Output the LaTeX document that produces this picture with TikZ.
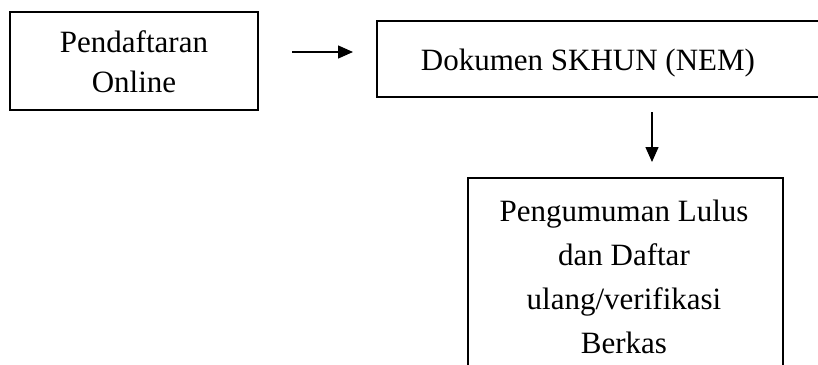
\documentclass[tikz,border=0pt]{standalone}
\usepackage{fontspec}
\setmainfont{Liberation Serif}
\usetikzlibrary{arrows.meta,positioning}
\tikzset{
  boxst/.style={draw=black, line width=1.3pt, rectangle, inner sep=0pt},
  txt/.style={align=center, inner sep=0pt, font=\fontsize{31}{44}\selectfont},
  arr/.style={line width=1.4pt, -{Triangle[length=15pt,width=13pt]}}
}
\begin{document}
\begin{tikzpicture}[x=1pt,y=-1pt]
\clip (0,0) rectangle (818,364);
\fill[white] (0,0) rectangle (818,364);
% box 1
\node[boxst, minimum width=248pt, minimum height=98pt] (box1) at (134,61) {};
\node[txt, font=\fontsize{31}{40}\selectfont] (t1) at (134,62) {Pendaftaran\\Online};
% box 2 (extends past right edge)
\node[boxst, minimum width=463pt, minimum height=76pt] (box2) at (608.5,59) {};
\node[txt, anchor=base] (t2) at (588,70) {Dokumen SKHUN (NEM)};
% box 3 (extends past bottom edge)
\node[boxst, minimum width=315pt, minimum height=222pt] (box3) at (625.5,289) {};
\node[txt] (t3) at (624,277) {Pengumuman Lulus\\dan Daftar\\ulang/verifikasi\\Berkas};
% arrows
\coordinate (a1s) at (292,52);
\coordinate (a1e) at (353,52);
\coordinate (a2s) at (652,112);
\coordinate (a2e) at (652,162);
\draw[arr] (a1s) -- (a1e);
\draw[arr] (a2s) -- (a2e);
\end{tikzpicture}
\end{document}
